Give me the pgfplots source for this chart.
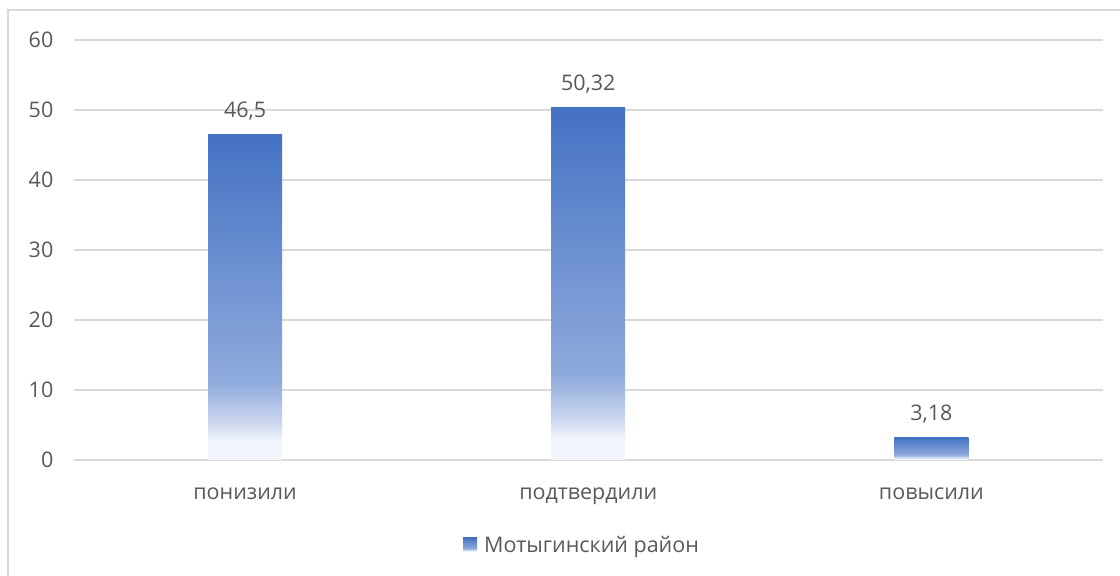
\documentclass[border=0pt]{standalone}
\usepackage{fontspec}
\setmainfont{Open Sans}
\usepackage{pgfplots}
\pgfplotsset{compat=1.18}

\definecolor{barblue}{HTML}{4472C4}
\definecolor{barmid}{HTML}{8FAADC}
\definecolor{barlight}{HTML}{C9D5EE}
\definecolor{barpale}{HTML}{F2F5FB}
\definecolor{gridgray}{HTML}{D9D9D9}
\definecolor{labelgray}{HTML}{595959}

% per-bar fade: dark blue on top, white at the foot
\pgfdeclareverticalshading{barfade}{100bp}{%
  color(0bp)=(barpale); color(25bp)=(barpale); color(28bp)=(barpale);
  color(31bp)=(barlight); color(37bp)=(barmid);
  color(75bp)=(barblue); color(100bp)=(barblue)}

\newcommand{\chartfont}{\fontsize{21.5}{26}\selectfont}

\begin{document}
\chartfont
\begin{tikzpicture}
  \begin{axis}[
    at={(73.5pt,116pt)}, anchor=south west,
    scale only axis, width=1029.5pt, height=420pt,
    xmin=-0.5, xmax=2.5, ymin=0, ymax=60,
    ybar, bar width=74pt, bar shift=0pt,
    xtick={0,1,2},
    xticklabels={понизили,подтвердили,повысили},
    ytick={0,10,20,30,40,50,60},
    ymajorgrids, grid style={gridgray, line width=1.4pt},
    axis line style={draw=none},
    tick style={draw=none},
    major tick length=0pt,
    tick label style={text=labelgray, font=\chartfont},
    yticklabel style={anchor=east, inner sep=0pt, xshift=-20pt},
    xticklabel style={anchor=base, inner sep=0pt, yshift=-39pt},
    /pgf/number format/.cd, use comma, assume math mode=true, /pgfplots/.cd,
    nodes near coords,
    every node near coord/.append style={text=labelgray, inner sep=0pt,
      text depth=0pt, yshift=17pt, font=\chartfont},
    legend style={at={(0.3783,-0.2214)}, anchor=south west, draw=none,
      fill=none, inner sep=0pt, column sep=7pt,
      font=\chartfont, text=labelgray,
      cells={anchor=base}, nodes={inner sep=0pt, text depth=0pt}},
    legend image code/.code={\fill[shading=barfade] (0pt,1pt) rectangle (14pt,15pt);},
  ]
    % one plot per bar, so that each bar gets its own fade
    \addplot[draw=none, shading=barfade] coordinates {(0,46.5)};
    \addlegendentry{Мотыгинский район}
    \addplot[draw=none, shading=barfade, forget plot] coordinates {(1,50.32)};
    \addplot[draw=none, shading=barfade, forget plot] coordinates {(2,3.18)};
  \end{axis}
  \draw[gridgray, line width=1.5pt] (8pt,-20pt) -- (8pt,566pt) -- (1140pt,566pt);
  \pgfresetboundingbox
  \useasboundingbox (0pt,0pt) rectangle (1120pt,576pt);
\end{tikzpicture}
\end{document}
